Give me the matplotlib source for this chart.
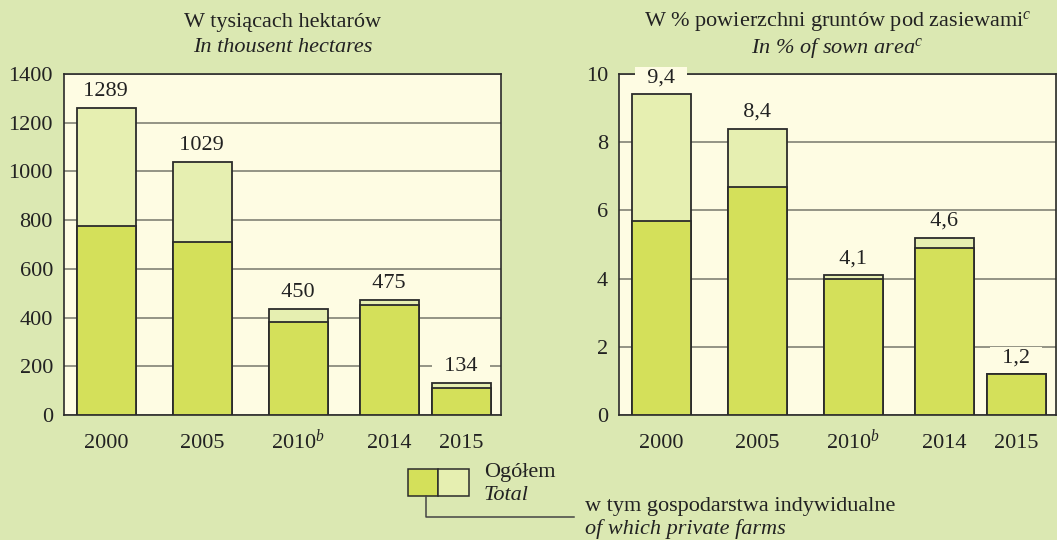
import matplotlib
matplotlib.use("Agg")
import matplotlib.pyplot as plt
from matplotlib.patches import Rectangle
from matplotlib.lines import Line2D

plt.rcParams["font.family"] = ["Liberation Serif", "DejaVu Serif"]
plt.rcParams["mathtext.fontset"] = "custom"
plt.rcParams["mathtext.rm"] = "Liberation Serif"
plt.rcParams["mathtext.it"] = "Liberation Serif:italic"

# ---- data ----
YEARS = ["2000", "2005", "2010$^{b}$", "2014", "2015"]
HA_TOTAL = [1260, 1037, 437, 474, 133]
HA_PRIVATE = [775, 710, 381, 451, 109]
HA_LABELS = ["1289", "1029", "450", "475", "134"]
PCT_TOTAL = [9.4, 8.4, 4.1, 5.2, 1.2]
PCT_PRIVATE = [5.7, 6.7, 4.0, 4.9, 1.2]
PCT_LABELS = ["9,4", "8,4", "4,1", "4,6", "1,2"]

# ---- layout / styles ----
W, H = 1057, 540
XPOS = [42, 138, 234, 325, 397]   # category slots (irregular spacing as in source)
BAR_W = 59
FIG_BG = "#dbe8b2"
AX_BG = "#fefce3"
C_PRIV = "#d4e05a"
C_TOT = "#e6efb1"
EDGE = "#2b2b2b"
TXT = "#222222"
FS = 16


def fx(px):
    return px / W


def fy(py):
    return 1 - py / H


fig = plt.figure(figsize=(W / 100, H / 100), dpi=100, facecolor=FIG_BG)


def panel(rect, total, private, labels, ylim, yticks, title1, title2):
    ax = fig.add_axes(rect, facecolor=AX_BG)
    ax.bar(XPOS, total, width=BAR_W, color=C_TOT, edgecolor=EDGE, linewidth=1.3, zorder=2)
    ax.bar(XPOS, private, width=BAR_W, color=C_PRIV, edgecolor=EDGE, linewidth=1.3, zorder=3)
    ax.set_xlim(0, 437)
    ax.set_ylim(*ylim)
    ax.set_yticks(yticks)
    ax.set_xticks(XPOS)
    ax.set_xticklabels(YEARS)
    ax.yaxis.grid(True, color="#77776c", linewidth=1.1)
    ax.set_axisbelow(True)
    ax.tick_params(length=0, labelsize=FS, colors=TXT)
    ax.tick_params(axis="x", pad=24)
    ax.tick_params(axis="y", pad=8)
    for lbl in ax.get_xticklabels():
        lbl.set_verticalalignment("baseline")
    for s in ax.spines.values():
        s.set_color(EDGE)
        s.set_linewidth(1.2)
    for x, t, lab in zip(XPOS, total, labels):
        ax.annotate(f"  {lab}  ", (x, t), xytext=(0, 5), textcoords="offset points",
                    ha="center", va="bottom", fontsize=FS, color=TXT, zorder=10,
                    annotation_clip=False,
                    bbox=dict(boxstyle="square,pad=0.05", fc=AX_BG, ec="none"))
    cx = rect[0] + rect[2] / 2
    fig.text(cx, fy(22), title1, ha="center", va="center", fontsize=FS, color=TXT)
    fig.text(cx, fy(48), title2, ha="center", va="center", fontsize=FS, color=TXT,
             style="italic")
    return ax


panel([fx(64), fy(415), fx(437), 341 / H], HA_TOTAL, HA_PRIVATE, HA_LABELS,
      (0, 1400), range(0, 1401, 200),
      "W tysiącach hektarów", "In thousent hectares")
panel([fx(619), fy(415), fx(437), 341 / H], PCT_TOTAL, PCT_PRIVATE, PCT_LABELS,
      (0, 10), range(0, 11, 2),
      "W % powierzchni gruntów pod zasiewami$^{c}$", "In % of sown area$^{c}$")

# ---- legend at the bottom ----
fig.add_artist(Rectangle((fx(408), fy(496)), fx(30), 27 / H, transform=fig.transFigure,
                         fc=C_PRIV, ec=EDGE, lw=1.1))
fig.add_artist(Rectangle((fx(438), fy(496)), fx(31), 27 / H, transform=fig.transFigure,
                         fc=C_TOT, ec=EDGE, lw=1.1))
fig.add_artist(Line2D([fx(426), fx(426), fx(574)], [fy(496), fy(517), fy(517)],
                      transform=fig.transFigure, color="#444444", lw=1.1))
fig.text(fx(484), fy(472), "Ogółem", ha="left", va="center", fontsize=FS, color=TXT)
fig.text(fx(484), fy(495), "Total", ha="left", va="center", fontsize=FS, color=TXT,
         style="italic")
fig.text(fx(585), fy(507), "w tym gospodarstwa indywidualne", ha="left", va="center",
         fontsize=FS, color=TXT)
fig.text(fx(585), fy(529), "of which private farms", ha="left", va="center",
         fontsize=FS, color=TXT, style="italic")

fig.savefig("out.png", dpi=100, facecolor=FIG_BG)
